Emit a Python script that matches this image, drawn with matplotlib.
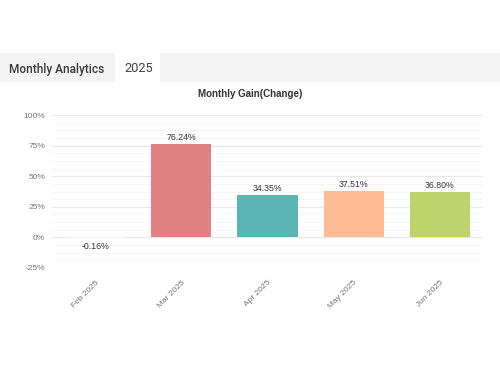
import matplotlib.pyplot as plt
import matplotlib.transforms as mtransforms
from matplotlib.patches import Rectangle
from matplotlib.ticker import MultipleLocator, FuncFormatter

months = ['Feb 2025', 'Mar 2025', 'Apr 2025', 'May 2025', 'Jun 2025']
gains = [-0.16, 76.24, 34.35, 37.51, 36.80]
colors = ['#f2f2f2', '#e08283', '#5bb5b5', '#ffbb92', '#bdd46c']

fig = plt.figure(figsize=(5, 3.7), dpi=100)
fig.patch.set_facecolor('white')

# header band with tab
fig.patches.append(Rectangle((0, 1 - 82 / 370), 1, 29 / 370, transform=fig.transFigure,
                             facecolor='#f4f4f4', edgecolor='none', zorder=0))
fig.patches.append(Rectangle((115 / 500, 1 - 82 / 370), 45 / 500, 29 / 370, transform=fig.transFigure,
                             facecolor='white', edgecolor='none', zorder=1))
fig.text(9 / 500, 1 - 69 / 370, 'Monthly Analytics', fontsize=8.6, color='#3a3a3a',
         va='center', ha='left', fontfamily='Roboto', fontweight='medium')
fig.text(124 / 500, 1 - 69 / 370, '2025', fontsize=9.3, color='#444444',
         va='center', ha='left', fontfamily='Roboto')
fig.text(0.5, 1 - 94 / 370, 'Monthly Gain(Change)', fontsize=7, fontweight='bold',
         color='#333333', ha='center', va='center', fontfamily='Liberation Sans')

ax = fig.add_axes([52 / 500, 1 - 268 / 370, 431 / 500, 153 / 370])
x = range(len(months))
ax.bar(x, gains, width=0.7, color=colors, zorder=2)

for i, v in enumerate(gains):
    if v >= 0:
        ax.text(i, v + 2, f'{v:.2f}%', ha='center', va='bottom', fontsize=6.3,
                color='#333333', fontfamily='Liberation Sans')
    else:
        ax.text(i, v - 4, f'{v:.2f}%', ha='center', va='top', fontsize=6.3,
                color='#333333', fontfamily='Liberation Sans')

ax.set_xlim(-0.5, len(months) - 0.5)
ax.set_ylim(-25, 100)
ax.yaxis.set_major_locator(MultipleLocator(25))
ax.yaxis.set_minor_locator(MultipleLocator(6.25))
ax.yaxis.set_major_formatter(FuncFormatter(lambda v, p: f'{v:.0f}%'))
ax.grid(axis='y', which='major', color='#e8e8e8', linewidth=0.8, zorder=0)
ax.grid(axis='y', which='minor', color='#f5f5f5', linewidth=0.6, zorder=0)
ax.set_xticks(list(x))
ax.set_xticklabels(months, rotation=45, fontsize=6, color='#777777', fontfamily='Liberation Sans')
shift = mtransforms.ScaledTranslation(-6 / 100, 0, fig.dpi_scale_trans)
for lbl in ax.get_xticklabels():
    lbl.set_horizontalalignment('right')
    lbl.set_rotation_mode('anchor')
    lbl.set_transform(lbl.get_transform() + shift)
ax.tick_params(axis='y', labelsize=6, labelcolor='#777777', length=0, pad=5)
ax.tick_params(axis='x', length=0, pad=8)
ax.tick_params(which='minor', length=0)
for lbl in ax.get_yticklabels():
    lbl.set_fontfamily('Liberation Sans')
for s in ax.spines.values():
    s.set_visible(False)

fig.savefig('out.png', dpi=100)
